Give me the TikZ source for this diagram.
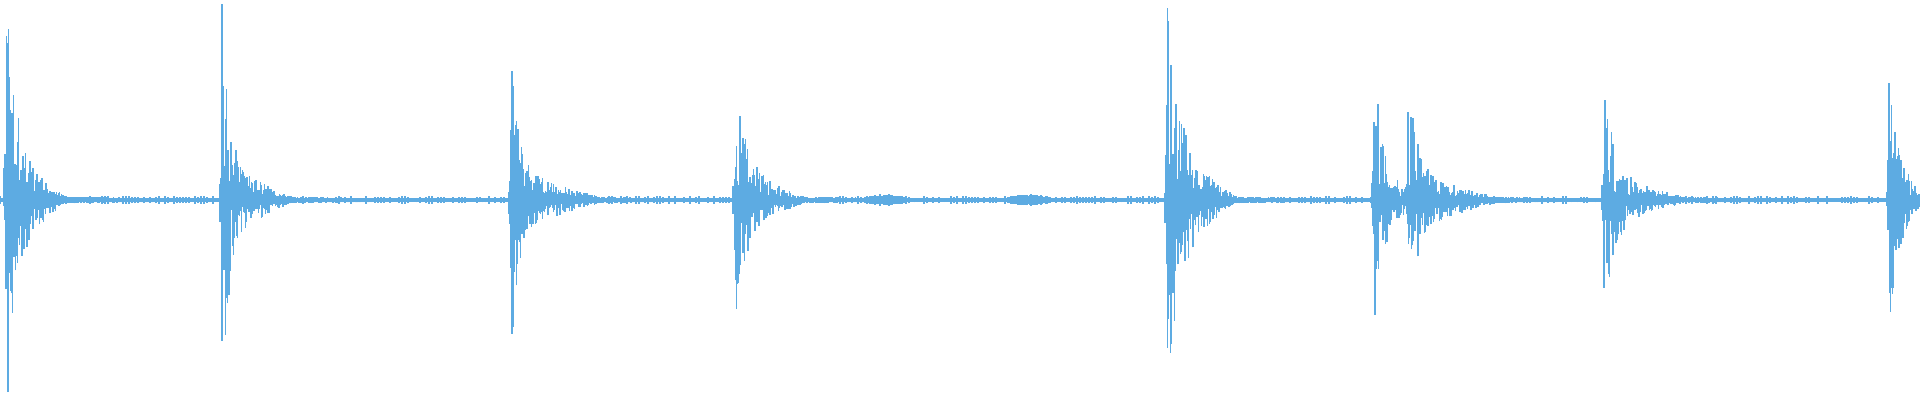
\documentclass[tikz,border=0pt]{standalone}
\usepackage{tikz}
\definecolor{wave}{RGB}{93,171,226}
\tikzset{sample/.style={draw=wave,line width=0.35pt}}
\begin{document}
\begin{tikzpicture}[x=0.01cm,y=0.01cm]
  \useasboundingbox (0,-200) rectangle (1920,200);
  \pgfmathsetseed{7}
  % baseline noise
  \fill[wave] (0,-2.2) rectangle (1920,2.2);
  \foreach \i in {0,3,...,1920}{
    \pgfmathsetmacro\h{1.5+2.5*rnd}
    \draw[sample] (\i,-\h) -- (\i,\h);
  }
  % small bumps
  \foreach \xo in {865,1010}{
    \foreach \i in {0,1,...,40}{
      \pgfmathsetmacro\h{3+3*sin(\i*4.5)*rnd}
      \draw[sample] (\xo+\i,-\h) -- (\xo+\i,\h);
    }
  }
  % hits
  \foreach \xo/\amp/\tau/\tail/\tlen in {6/185/9/40/60, 222/175/7/30/70,
      511/140/7/25/90, 735/100/12/20/70, 1167/160/12/40/70,
      1374/120/7/25/50, 1408/98/9/22/90, 1604/110/9/20/80,
      1889/122/9/22/30}{
    \foreach \i in {-3,-2.5,...,150}{
      \pgfmathsetmacro\xx{\xo+\i}
      \pgfmathsetmacro\env{\i<0 ? \amp*(1+\i/3)*0.5 : \amp*exp(-\i/\tau)+max(0,\tail*(1-\i/\tlen))+4*exp(-\i/60)}
      \pgfmathsetmacro\up{\env*(0.1+0.9*rnd^2)+2}
      \pgfmathsetmacro\dn{\env*(0.1+0.9*rnd^2)+2}
      \ifdim\xx pt<1920pt
        \draw[sample] (\xx,-\dn) -- (\xx,\up);
      \fi
    }
  }
\end{tikzpicture}
\end{document}
